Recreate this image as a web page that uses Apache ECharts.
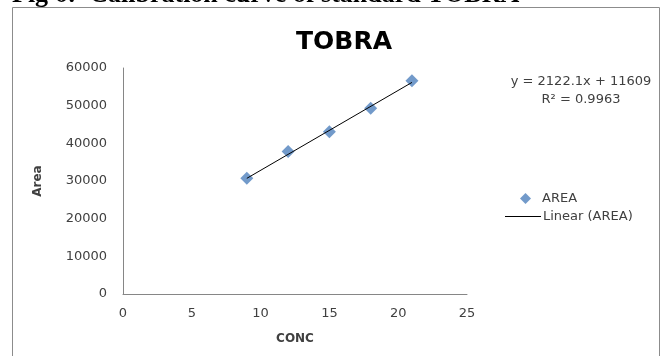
<!DOCTYPE html>
<html>
<head>
<meta charset="utf-8">
<script src="https://cdn.jsdelivr.net/npm/echarts@6/dist/echarts.min.js"></script>
<style>
  html, body { margin: 0; padding: 0; background: #fff; }
  #chart { width: 668px; height: 356px; }
</style>
</head>
<body>
<div id="chart"></div>
<script>
// Calibration standards: concentration vs. peak area
const conc = [9, 12, 15, 18, 21];
const area = [30700, 37800, 43100, 49300, 56600];

// Least-squares trendline as printed on the chart
const slope = 2122.1;
const intercept = 11609;
const rSquared = 0.9963;

const xTicks = { min: 0, max: 25, interval: 5 };
const yTicks = { min: 0, max: 60000, interval: 10000 };

const trendX = [conc[0], conc[conc.length - 1]];
const trend = trendX.map(x => [x, slope * x + intercept]);

const textColor = '#404040';
const axisColor = '#868686';
const font = 'DejaVu Sans';
const diamond = 'path://M5,0 L10,5 L5,10 L0,5 Z';

const chart = echarts.init(document.getElementById('chart'));
chart.setOption({
  backgroundColor: '#ffffff',
  animation: false,
  title: {
    text: 'TOBRA',
    left: 339,
    top: 25,
    textAlign: 'center',
    textStyle: { fontFamily: font, fontSize: 25, fontWeight: 'bold', color: '#000' }
  },
  grid: { left: 123, top: 68, right: 201, bottom: 62 },
  xAxis: {
    type: 'value',
    min: xTicks.min, max: xTicks.max, interval: xTicks.interval,
    name: 'CONC',
    nameLocation: 'middle',
    nameGap: 39,
    nameTextStyle: { fontFamily: font, fontSize: 12, fontWeight: 'bold', color: textColor },
    axisLine: { lineStyle: { color: axisColor, width: 1 } },
    axisTick: { show: false },
    splitLine: { show: false },
    axisLabel: { margin: 13, fontFamily: font, fontSize: 13, color: textColor }
  },
  yAxis: {
    type: 'value',
    min: yTicks.min, max: yTicks.max, interval: yTicks.interval,
    name: 'Area',
    nameLocation: 'middle',
    nameGap: 79,
    nameTextStyle: { fontFamily: font, fontSize: 12, fontWeight: 'bold', color: textColor },
    axisLine: { show: true, lineStyle: { color: axisColor, width: 1 } },
    axisTick: { show: false },
    splitLine: { show: false },
    axisLabel: {
      margin: 16, fontFamily: font, fontSize: 13, color: textColor,
      formatter: v => String(v)
    }
  },
  legend: [
    {
      data: [{ name: 'AREA', icon: diamond }],
      left: 515, top: 187,
      itemWidth: 11, itemHeight: 11,
      textStyle: { fontFamily: font, fontSize: 13, color: textColor, padding: [0, 0, 0, 6] }
    },
    {
      data: [{ name: 'Linear (AREA)', icon: 'rect' }],
      left: 500, top: 205,
      itemWidth: 36, itemHeight: 1.2,
      itemGap: 0,
      textStyle: { fontFamily: font, fontSize: 13, color: textColor, padding: [0, 0, 0, -3] }
    }
  ],
  graphic: [
    {
      type: 'rect',
      shape: { x: 12.5, y: 7.5, width: 647, height: 370 },
      style: { fill: 'none', stroke: '#8c8c8c', lineWidth: 1 },
      silent: true
    },
    {
      type: 'text',
      left: 12, top: -18,
      style: {
        text: 'Fig 6:  Calibration curve of standard TOBRA',
        font: 'bold 26px "Liberation Serif"',
        fill: '#000'
      }
    },
    {
      type: 'text',
      x: 581, y: 82,
      style: {
        text: 'y = ' + slope.toFixed(1) + 'x + ' + intercept,
        font: '13px "DejaVu Sans"', fill: textColor,
        align: 'center', verticalAlign: 'middle'
      }
    },
    {
      type: 'text',
      x: 581, y: 100,
      style: {
        text: 'R² = ' + rSquared,
        font: '13px "DejaVu Sans"', fill: textColor,
        align: 'center', verticalAlign: 'middle'
      }
    }
  ],
  series: [
    {
      name: 'AREA',
      type: 'scatter',
      data: conc.map((x, i) => [x, area[i]]),
      symbol: diamond,
      symbolSize: 13,
      itemStyle: { color: '#4f81bd' },
      z: 3
    },
    {
      name: 'Linear (AREA)',
      type: 'line',
      data: trend,
      showSymbol: false,
      symbol: 'none',
      lineStyle: { color: '#000', width: 1 },
      itemStyle: { color: '#000' },
      z: 4
    }
  ]
});
</script>
</body>
</html>
